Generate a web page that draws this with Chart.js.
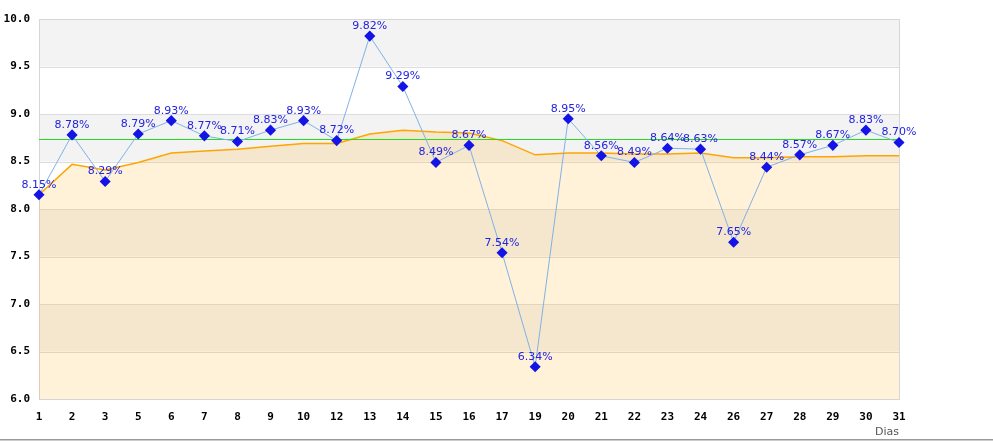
<!DOCTYPE html>
<html lang="es">
<head>
<meta charset="utf-8">
<title>Dias</title>
<script src="https://cdn.jsdelivr.net/npm/chart.js@4.4.1/dist/chart.umd.min.js"></script>
<style>
  html, body { margin: 0; padding: 0; background: #fff; }
  #wrap { width: 993px; height: 441px; }
</style>
</head>
<body>
<div id="wrap"><canvas id="chart" width="993" height="441"></canvas></div>
<script>
// dias del mes
const days = ['1','2','3','5','6','7','8','9','10','12','13','14','15','16','17','19','20','21','22','23','24','26','27','28','29','30','31'];
// valor diario (%)
const dailyRate = [8.15, 8.78, 8.29, 8.79, 8.93, 8.77, 8.71, 8.83, 8.93, 8.72, 9.82, 9.29, 8.49, 8.67, 7.54, 6.34, 8.95, 8.56, 8.49, 8.64, 8.63, 7.65, 8.44, 8.57, 8.67, 8.83, 8.70];
// promedio acumulado
const avgRate = [8.15, 8.47, 8.41, 8.49, 8.59, 8.61, 8.63, 8.66, 8.69, 8.69, 8.79, 8.83, 8.81, 8.80, 8.72, 8.57, 8.59, 8.59, 8.58, 8.58, 8.59, 8.54, 8.54, 8.55, 8.55, 8.56, 8.56];
// linea de referencia
const meanRate = 8.74;
const yMin = 6.0, yMax = 10.0, yStep = 0.5;

const bandsPlugin = {
    id: 'bands',
    beforeDatasetsDraw(chart) {
        const {ctx, chartArea: a, scales: {y}} = chart;
        ctx.save();
        let n = 0;
        for (let v = yMin; v < yMax - 0.001; v += yStep, n++) {
            const top = y.getPixelForValue(v + yStep);
            const bot = y.getPixelForValue(v);
            ctx.fillStyle = n % 2 ? '#f3f3f3' : '#ffffff';
            ctx.fillRect(a.left, top, a.right - a.left, bot - top);
            ctx.strokeStyle = '#dddddd';
            ctx.lineWidth = 1;
            ctx.beginPath();
            ctx.moveTo(a.left, Math.round(top) + 0.5);
            ctx.lineTo(a.right, Math.round(top) + 0.5);
            ctx.stroke();
        }
        ctx.strokeStyle = '#d6d6d6';
        ctx.strokeRect(Math.round(a.left) + 0.5, Math.round(a.top) + 0.5, Math.round(a.right - a.left), Math.round(a.bottom - a.top));
        ctx.restore();
    },
    afterDatasetDraw(chart, args) {
        if (args.index !== 1) return;
        const {ctx, chartArea: a, scales: {y}} = chart;
        const py = Math.round(y.getPixelForValue(meanRate)) + 0.5;
        ctx.save();
        ctx.strokeStyle = '#22dd22';
        ctx.lineWidth = 1;
        ctx.beginPath();
        ctx.moveTo(a.left, py);
        ctx.lineTo(a.right, py);
        ctx.stroke();
        ctx.restore();
    },
    afterDraw(chart) {
        const {ctx, chartArea: a} = chart;
        const meta = chart.getDatasetMeta(0);
        ctx.save();
        ctx.font = '11px "DejaVu Sans"';
        ctx.fillStyle = '#2323e0';
        ctx.textAlign = 'center';
        ctx.textBaseline = 'middle';
        meta.data.forEach((pt, i) => {
            ctx.fillText(dailyRate[i].toFixed(2) + '%', pt.x, pt.y - 10);
        });
        ctx.fillStyle = '#555555';
        ctx.textAlign = 'right';
        ctx.fillText('Dias', a.right, 432);
        ctx.fillStyle = '#999999';
        ctx.fillRect(0, 439, chart.width, 1.5);
        ctx.restore();
    }
};

const ctx = document.getElementById('chart').getContext('2d');
new Chart(ctx, {
    type: 'line',
    data: {
        labels: days,
        datasets: [
            {
                data: dailyRate,
                borderColor: '#80b2e6',
                borderWidth: 1,
                pointStyle: 'rectRot',
                pointRadius: 4.5,
                pointBackgroundColor: '#1414e6',
                pointBorderColor: '#1414e6',
                pointBorderWidth: 1.5,
                tension: 0,
                fill: false
            },
            {
                data: avgRate,
                borderColor: '#ffa500',
                borderWidth: 1.5,
                pointRadius: 0,
                backgroundColor: 'rgba(255, 165, 0, 0.15)',
                tension: 0,
                fill: 'start'
            }
        ]
    },
    options: {
        responsive: false,
        animation: false,
        events: [],
        layout: { padding: { top: 19, right: 94, left: 0, bottom: 0 } },
        plugins: { legend: { display: false }, tooltip: { enabled: false } },
        scales: {
            x: {
                offset: false,
                grid: { display: false, drawTicks: false },
                border: { display: false },
                ticks: {
                    color: '#000',
                    padding: 12,
                    maxRotation: 0,
                    autoSkip: false,
                    font: { family: '"DejaVu Sans Mono"', size: 11, weight: 'bold' }
                },
                afterFit(scale) { scale.height = 42; }
            },
            y: {
                min: yMin,
                max: yMax,
                grid: { display: false, drawTicks: false },
                border: { display: false },
                ticks: {
                    stepSize: yStep,
                    color: '#000',
                    padding: 9,
                    font: { family: '"DejaVu Sans Mono"', size: 11, weight: 'bold' },
                    callback: v => Number(v).toFixed(1)
                },
                afterFit(scale) { scale.width = 39; }
            }
        }
    },
    plugins: [bandsPlugin]
});
</script>
</body>
</html>
